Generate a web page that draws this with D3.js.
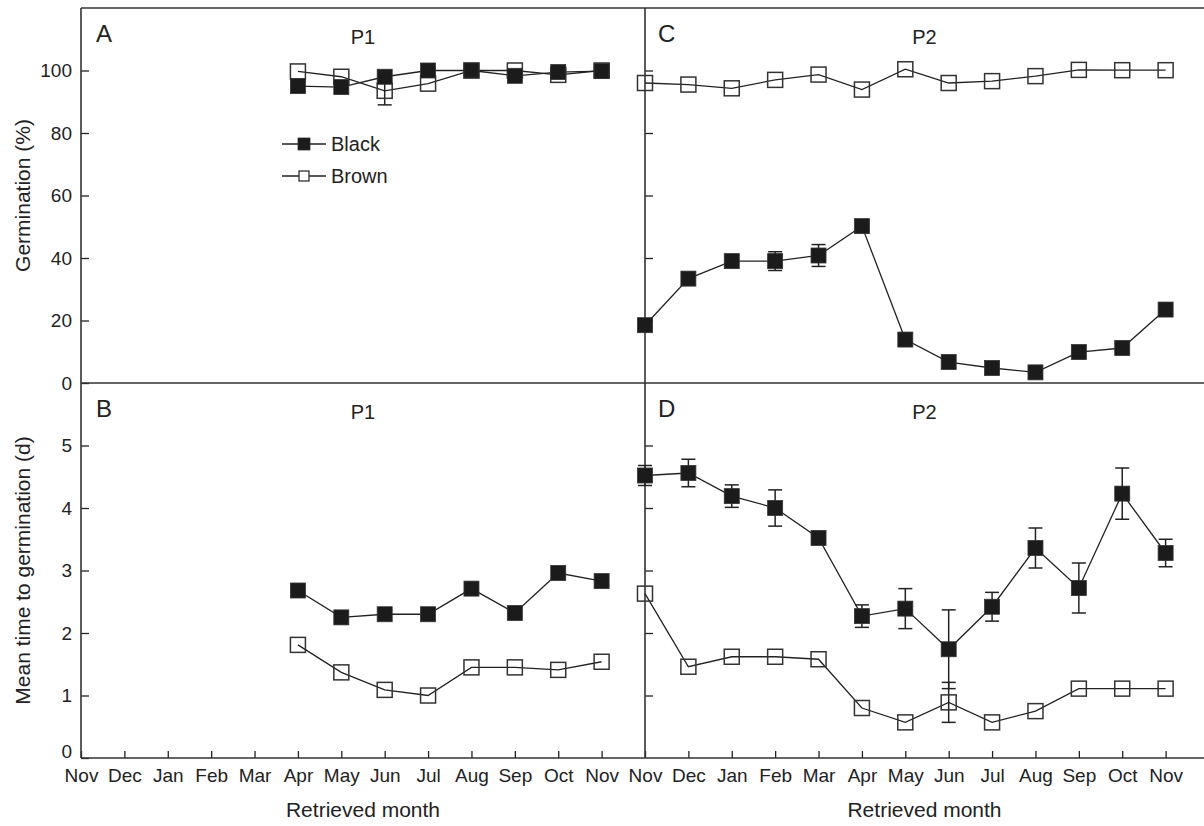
<!DOCTYPE html>
<html>
<head>
<meta charset="utf-8">
<script src="https://cdn.jsdelivr.net/npm/d3@7"></script>
<style>
	body { margin: 0; background: #fff; }
	svg { display: block; font-family: "Liberation Sans", Arial, sans-serif; }
</style>
</head>
<body>
<div id="chart"></div>
<script>
// month labels along each panel's x axis
var monthLabels = ["Nov", "Dec", "Jan", "Feb", "Mar", "Apr", "May", "Jun", "Jul", "Aug", "Sep", "Oct", "Nov"];
// P1 starts in April (index 5), P2 covers the whole year
var p1Start = 5;
var p2Start = 0;

// Germination (%)
var p1GermBlack    = [95, 94.7, 98, 100, 100, 98.3, 99.5, 99.8];
var p1GermBrown    = [99.7, 98, 93.5, 95.8, 100, 100, 98.6, 100];
var p1GermBrownErr = [0, 0, 4.5, 0, 0, 0, 0, 0];
var p2GermBlack    = [18.5, 33.4, 39, 39, 40.8, 50.2, 13.9, 6.7, 4.8, 3.4, 9.9, 11.2, 23.5];
var p2GermBlackErr = [0, 0, 0, 3, 3.5, 0, 0, 0, 0, 0, 0, 0, 0];
var p2GermBrown    = [96, 95.5, 94.3, 97, 98.7, 93.9, 100.4, 96, 96.6, 98.2, 100.2, 100.1, 100.1];

// Mean time to germination (d)
var p1MtgBlack     = [2.68, 2.25, 2.30, 2.30, 2.71, 2.32, 2.96, 2.83];
var p1MtgBrown     = [1.81, 1.37, 1.09, 1.0, 1.45, 1.45, 1.41, 1.54];
var p2MtgBlack     = [4.52, 4.56, 4.19, 4.0, 3.52, 2.27, 2.39, 1.74, 2.42, 3.36, 2.72, 4.23, 3.28];
var p2MtgBlackErr  = [0.16, 0.22, 0.18, 0.29, 0.04, 0.18, 0.32, 0.63, 0.23, 0.32, 0.40, 0.41, 0.22];
var p2MtgBrown     = [2.63, 1.46, 1.62, 1.62, 1.58, 0.80, 0.57, 0.89, 0.57, 0.75, 1.11, 1.11, 1.11];
var p2MtgBrownErr  = [0, 0, 0, 0, 0, 0, 0, 0.32, 0, 0, 0, 0, 0];

var germTicks = [0, 20, 40, 60, 80, 100];
var mtgTicks = [0, 1, 2, 3, 4, 5];

var W = 1204, H = 826;
var ink = "#222";
var frame = { left: 81, mid: 645, right: 1204, top: 8, middle: 383, bottom: 758 };
var step = (frame.mid - frame.left) / 13;

var svg = d3.select("#chart").append("svg")
	.attr("width", W)
	.attr("height", H);

var xLeft = d3.scaleLinear().domain([0, 13]).range([frame.left, frame.left + 13 * step]);
var xRight = d3.scaleLinear().domain([0, 13]).range([frame.mid, frame.mid + 13 * step]);
var yGerm = d3.scaleLinear().domain([0, 120]).range([frame.middle, frame.top]);
var yMtg = d3.scaleLinear().domain([0, 6]).range([frame.bottom, frame.middle]);

function toPoints(values, errs, start)
{
	return values.map(function(v, i){
		return { i: start + i, v: v, e: errs ? errs[i] : 0 };
	});
}

var panels = [
	{ letter: "A", title: "P1", x: xLeft, y: yGerm, top: frame.top, labels: true,
	  black: toPoints(p1GermBlack, null, p1Start), brown: toPoints(p1GermBrown, p1GermBrownErr, p1Start) },
	{ letter: "C", title: "P2", x: xRight, y: yGerm, top: frame.top, labels: false,
	  black: toPoints(p2GermBlack, p2GermBlackErr, p2Start), brown: toPoints(p2GermBrown, null, p2Start) },
	{ letter: "B", title: "P1", x: xLeft, y: yMtg, top: frame.middle, labels: true,
	  black: toPoints(p1MtgBlack, null, p1Start), brown: toPoints(p1MtgBrown, null, p1Start) },
	{ letter: "D", title: "P2", x: xRight, y: yMtg, top: frame.middle, labels: false,
	  black: toPoints(p2MtgBlack, p2MtgBlackErr, p2Start), brown: toPoints(p2MtgBrown, p2MtgBrownErr, p2Start) }
];

//**********************************
// axes
//**********************************
function yAxis(scale, ticks, xPos, labels, liftZero)
{
	var axis = d3.axisLeft(scale)
		.tickValues(labels ? ticks : ticks.slice(1))
		.tickSizeInner(-8)
		.tickSizeOuter(0)
		.tickPadding(9)
		.tickFormat(labels ? d3.format("d") : "");
	var g = svg.append("g").attr("transform", "translate(" + xPos + ",0)").call(axis);
	g.select(".domain").remove();
	g.selectAll("line").attr("stroke", ink).attr("stroke-width", 1.3);
	g.selectAll("text").attr("fill", ink).style("font-size", "19px");
	// the bottom-most 0 sits on top of the x axis, as in the original
	if(liftZero)
		g.selectAll("text").filter(function(d){ return d === 0; }).attr("dy", "-0.02em");
}

function xAxis(scale)
{
	var axis = d3.axisBottom(scale)
		.tickValues(d3.range(13))
		.tickSizeInner(-7)
		.tickSizeOuter(0)
		.tickPadding(11)
		.tickFormat(function(d){ return monthLabels[d]; });
	var g = svg.append("g").attr("transform", "translate(0," + frame.bottom + ")").call(axis);
	g.select(".domain").remove();
	g.selectAll("line").attr("stroke", ink).attr("stroke-width", 1.3);
	g.selectAll("text").attr("fill", ink).style("font-size", "19px");
}

yAxis(yGerm, germTicks, frame.left, true, false);
yAxis(yMtg, mtgTicks, frame.left, true, true);
yAxis(yGerm, germTicks, frame.mid, false, false);
yAxis(yMtg, mtgTicks, frame.mid, false, false);
xAxis(xLeft);
xAxis(xRight);

// frame lines
var frameLines = [
	[frame.left, frame.top, frame.right, frame.top],
	[frame.left, frame.middle, frame.right, frame.middle],
	[frame.left, frame.bottom, frame.right, frame.bottom],
	[frame.left, frame.top, frame.left, frame.bottom],
	[frame.mid, frame.top, frame.mid, frame.bottom]
];
svg.append("g").selectAll("line").data(frameLines).enter()
	.append("line")
	.attr("x1", function(d){ return d[0]; })
	.attr("y1", function(d){ return d[1]; })
	.attr("x2", function(d){ return d[2]; })
	.attr("y2", function(d){ return d[3]; })
	.style("stroke", "#333")
	.style("stroke-width", 1.6);

//**********************************
// series
//**********************************
var markSize = 15;
var capHalf = 7;

function drawSeries(p, pts, filled)
{
	var g = svg.append("g");
	var line = d3.line()
		.x(function(d){ return p.x(d.i); })
		.y(function(d){ return p.y(d.v); });

	var withErr = pts.filter(function(d){ return d.e > 0; });
	var bars = g.selectAll(".err").data(withErr).enter().append("g");
	bars.append("line")
		.attr("x1", function(d){ return p.x(d.i); })
		.attr("x2", function(d){ return p.x(d.i); })
		.attr("y1", function(d){ return p.y(d.v + d.e); })
		.attr("y2", function(d){ return p.y(d.v - d.e); });
	[1, -1].forEach(function(sign){
		bars.append("line")
			.attr("x1", function(d){ return p.x(d.i) - capHalf; })
			.attr("x2", function(d){ return p.x(d.i) + capHalf; })
			.attr("y1", function(d){ return p.y(d.v + sign * d.e); })
			.attr("y2", function(d){ return p.y(d.v + sign * d.e); });
	});
	bars.selectAll("line").style("stroke", ink).style("stroke-width", 1.5);

	g.append("path")
		.datum(pts)
		.attr("d", line)
		.style("fill", "none")
		.style("stroke", ink)
		.style("stroke-width", 1.3);

	g.selectAll("rect").data(pts).enter()
		.append("rect")
		.attr("x", function(d){ return p.x(d.i) - markSize / 2; })
		.attr("y", function(d){ return p.y(d.v) - markSize / 2; })
		.attr("width", markSize)
		.attr("height", markSize)
		.style("fill", filled ? "#1b1b1b" : "none")
		.style("stroke", "#333")
		.style("stroke-width", filled ? 0.8 : 1.5);
}

panels.forEach(function(p){
	drawSeries(p, p.brown, false);
	drawSeries(p, p.black, true);

	var x0 = p.x.range()[0];
	svg.append("text")
		.attr("x", x0 + (p.labels ? 15 : 13))
		.attr("y", p.top + 34)
		.style("font-size", "24px")
		.attr("fill", ink)
		.text(p.letter);

	svg.append("text")
		.attr("x", p.labels ? (frame.left + frame.mid) / 2 : (frame.mid + frame.right) / 2)
		.attr("y", p.top + 29)
		.attr("dy", "0.35em")
		.style("font-size", "20px")
		.style("text-anchor", "middle")
		.attr("fill", ink)
		.text(p.title);
});

//**********************************
// legend (panel A)
//**********************************
var legendItems = [
	{ label: "Black", filled: true, y: 144 },
	{ label: "Brown", filled: false, y: 176 }
];
var lg = svg.append("g");
legendItems.forEach(function(d){
	lg.append("line")
		.attr("x1", 282).attr("x2", 326)
		.attr("y1", d.y).attr("y2", d.y)
		.style("stroke", ink).style("stroke-width", 1.3);
	var s = d.filled ? 12 : 10;
	lg.append("rect")
		.attr("x", 304 - s / 2).attr("y", d.y - s / 2)
		.attr("width", s).attr("height", s)
		.style("fill", d.filled ? "#1b1b1b" : "#fff")
		.style("stroke", "#333")
		.style("stroke-width", d.filled ? 0.8 : 1.3);
	lg.append("text")
		.attr("x", 331).attr("y", d.y)
		.attr("dy", "0.35em")
		.style("font-size", "20px")
		.attr("fill", ink)
		.text(d.label);
});

//**********************************
// axis titles
//**********************************
svg.append("text")
	.attr("transform", "translate(23," + ((frame.top + frame.middle) / 2) + ") rotate(-90)")
	.attr("dy", "0.35em")
	.style("text-anchor", "middle")
	.style("font-size", "21px")
	.attr("fill", ink)
	.text("Germination (%)");

svg.append("text")
	.attr("transform", "translate(23," + ((frame.middle + frame.bottom) / 2) + ") rotate(-90)")
	.attr("dy", "0.35em")
	.style("text-anchor", "middle")
	.style("font-size", "21px")
	.attr("fill", ink)
	.text("Mean time to germination (d)");

[(frame.left + frame.mid) / 2, (frame.mid + frame.right) / 2].forEach(function(cx){
	svg.append("text")
		.attr("x", cx)
		.attr("y", 817)
		.style("text-anchor", "middle")
		.style("font-size", "21px")
		.attr("fill", ink)
		.text("Retrieved month");
});
</script>
</body>
</html>
